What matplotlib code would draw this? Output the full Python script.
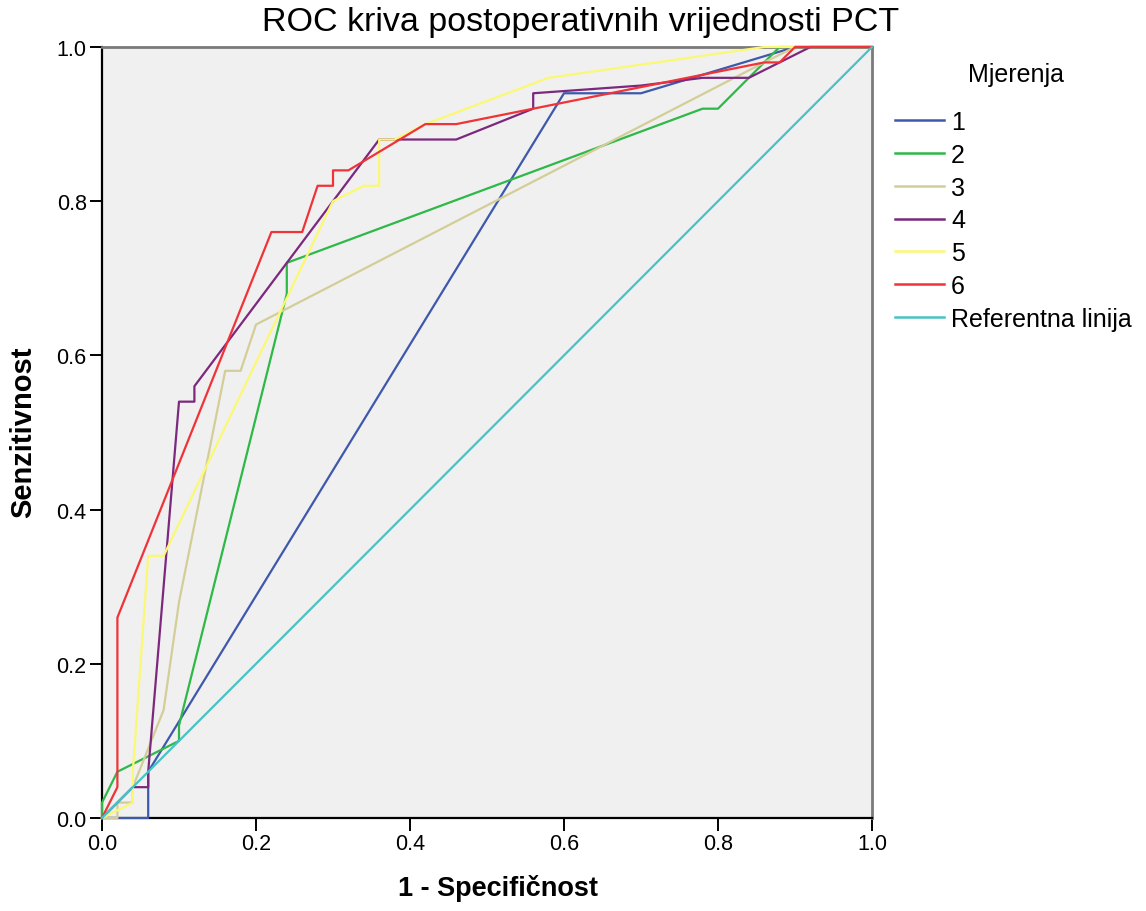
import matplotlib
matplotlib.use("Agg")
import matplotlib.pyplot as plt
from matplotlib.lines import Line2D

plt.rcParams['font.family'] = ['Liberation Sans', 'DejaVu Sans']

title = "ROC kriva postoperativnih vrijednosti PCT"
xlabel = "1 - Specifičnost"
ylabel = "Senzitivnost"
legend_title = "Mjerenja"
labels = ["1", "2", "3", "4", "5", "6", "Referentna linija"]
colors = ["#3E58AC", "#2EB848", "#D3CE97", "#7C287D", "#FBF873", "#EF3338", "#48C2C5"]

s1_x = [0, 0.06, 0.06, 0.60, 0.70, 0.90, 1.0]
s1_y = [0, 0.0, 0.06, 0.94, 0.94, 1.0, 1.0]

s2_x = [0, 0, 0.02, 0.10, 0.10, 0.24, 0.24, 0.78, 0.80, 0.84, 0.88, 1.0]
s2_y = [0, 0.02, 0.06, 0.10, 0.12, 0.68, 0.72, 0.92, 0.92, 0.96, 1.0, 1.0]

s3_x = [0, 0.02, 0.02, 0.04, 0.04, 0.08, 0.10, 0.16, 0.18, 0.20, 0.86, 0.90, 1.0]
s3_y = [0, 0.0, 0.02, 0.02, 0.04, 0.14, 0.28, 0.58, 0.58, 0.64, 0.98, 1.0, 1.0]

s4_x = [0, 0.04, 0.06, 0.06, 0.10, 0.12, 0.12, 0.36, 0.46, 0.56, 0.56, 0.70, 0.78, 0.84, 0.92, 1.0]
s4_y = [0, 0.04, 0.04, 0.06, 0.54, 0.54, 0.56, 0.88, 0.88, 0.92, 0.94, 0.95, 0.96, 0.96, 1.0, 1.0]

s5_x = [0, 0.04, 0.04, 0.06, 0.08, 0.30, 0.34, 0.36, 0.36, 0.38, 0.42, 0.58, 0.86, 1.0]
s5_y = [0, 0.02, 0.06, 0.34, 0.34, 0.80, 0.82, 0.82, 0.88, 0.88, 0.90, 0.96, 1.0, 1.0]

s6_x = [0, 0.02, 0.02, 0.22, 0.26, 0.28, 0.30, 0.30, 0.32, 0.42, 0.46, 0.56, 0.86, 0.88, 0.90, 1.0]
s6_y = [0, 0.04, 0.26, 0.76, 0.76, 0.82, 0.82, 0.84, 0.84, 0.90, 0.90, 0.92, 0.98, 0.98, 1.0, 1.0]

ref_x = [0, 1]
ref_y = [0, 1]

series = [(s1_x, s1_y), (s2_x, s2_y), (s3_x, s3_y), (s4_x, s4_y),
          (s5_x, s5_y), (s6_x, s6_y), (ref_x, ref_y)]

W, H = 1146, 912
fig = plt.figure(figsize=(W / 100, H / 100), dpi=100)
ax = fig.add_axes([102 / W, 1 - 819 / H, 770 / W, 771 / H])
ax.set_facecolor("#F0F0F0")

handles = []
for (xs, ys), c, lab in zip(series, colors, labels):
    ax.plot(xs, ys, color=c, lw=1.6, clip_on=False, zorder=3)
    handles.append(Line2D([0], [0], color=c, lw=1.8, label=lab))

ax.set_xlim(0, 1)
ax.set_ylim(0, 1)
ticks = [0.0, 0.2, 0.4, 0.6, 0.8, 1.0]
ax.set_xticks(ticks)
ax.set_yticks(ticks)
ax.set_xticklabels([f"{t:.1f}" for t in ticks], fontsize=15.5)
ax.set_yticklabels([f"{t:.1f}" for t in ticks], fontsize=15.5)
ax.tick_params(direction="out", length=9, width=1.4, pad=2, colors="black")
for s in ["left", "bottom"]:
    ax.spines[s].set_color("black")
    ax.spines[s].set_linewidth(1.6)
for s in ["top", "right"]:
    ax.spines[s].set_color("#7A7A7A")
    ax.spines[s].set_linewidth(2.0)

fig.text(498 / W, 1 - 889 / H, xlabel, fontsize=19.5, fontweight="bold",
         ha="center", va="center")
fig.text(23 / W, 1 - 432 / H, ylabel, fontsize=21, fontweight="bold",
         ha="center", va="center", rotation=90)
fig.text(581 / W, 1 - 23 / H, title, fontsize=24.5, ha="center", va="center")

fig.text(1016 / W, 1 - 75 / H, legend_title, fontsize=18, ha="center", va="center")
leg = fig.legend(handles=handles, loc="upper left",
                 bbox_to_anchor=(895 / W, 1 - 111 / H), frameon=False, fontsize=18,
                 handlelength=1.95, handletextpad=0.3,
                 labelspacing=0.35, borderaxespad=0, borderpad=0)

fig.savefig("out.png", dpi=100, facecolor="white")
